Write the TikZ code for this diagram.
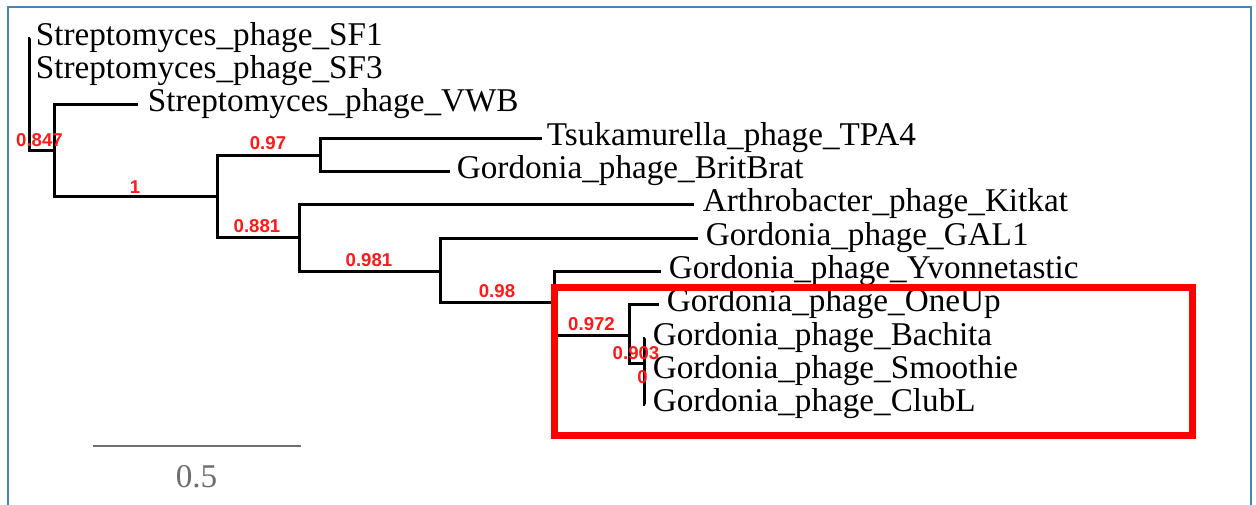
\documentclass[tikz,border=0pt]{standalone}
\usepackage{fontspec}
\setmainfont{Liberation Serif}
\newfontfamily\leaffont{Liberation Serif}
\newfontfamily\lblfont{Liberation Sans}
\definecolor{frameblue}{RGB}{70,132,190}
\definecolor{scalegray}{RGB}{110,110,110}
\definecolor{suppred}{RGB}{255,25,25}
\begin{document}
\begin{tikzpicture}[x=0.5pt,y=-0.5pt,
  branch/.style={line width=1.5pt,black,line join=miter},
  leaf/.style={anchor=base west,inner sep=0pt,font=\leaffont\fontsize{16.6pt}{20pt}\selectfont},
  supp/.style={anchor=center,inner sep=0pt,text=suppred,font=\lblfont\bfseries\fontsize{9.3pt}{11pt}\selectfont}]
\useasboundingbox (0,0) rectangle (1256,504);
\fill[white] (0,0) rectangle (1256,504);
% frame
\draw[frameblue,line width=1pt] (8,520) -- (8,7) -- (1251,7) -- (1251,520);

% internal nodes
\coordinate (root) at (29,94);
\coordinate (n847) at (54,150);
\coordinate (n1) at (217,196);
\coordinate (n97) at (320,155);
\coordinate (n881) at (299,237);
\coordinate (n981) at (440,271);
\coordinate (n98) at (554,302);
\coordinate (n972) at (629,335);
\coordinate (n903) at (644,363);

% leaf ends
\coordinate (eSF1) at (30,38);
\coordinate (eSF3) at (30,71);
\coordinate (eVWB) at (138,104);
\coordinate (eTPA) at (542,138);
\coordinate (eBrit) at (450,171);
\coordinate (eKit) at (694,204);
\coordinate (eGAL) at (698,238);
\coordinate (eYvo) at (661,271);
\coordinate (eOne) at (659,304);
\coordinate (eBac) at (645,338);
\coordinate (eSmo) at (645,371);
\coordinate (eClu) at (645,404);

% leaf labels
\node[leaf] (tSF1) at (35.5,45.5) {Streptomyces\_phage\_SF1};
\node[leaf] (tSF3) at (35.5,78.5) {Streptomyces\_phage\_SF3};
\node[leaf] (tVWB) at (147.5,111.5) {Streptomyces\_phage\_VWB};
\node[leaf] (tTPA) at (546.5,145.5) {Tsukamurella\_phage\_TPA4};
\node[leaf] (tBrit) at (456.5,178.5) {Gordonia\_phage\_BritBrat};
\node[leaf] (tKit) at (702.5,211.5) {Arthrobacter\_phage\_Kitkat};
\node[leaf] (tGAL) at (705.5,245.5) {Gordonia\_phage\_GAL1};
\node[leaf] (tYvo) at (668.5,278.5) {Gordonia\_phage\_Yvonnetastic};
\node[leaf] (tOne) at (666.5,311.5) {Gordonia\_phage\_OneUp};
\node[leaf] (tBac) at (652.5,345.5) {Gordonia\_phage\_Bachita};
\node[leaf] (tSmo) at (652.5,378.5) {Gordonia\_phage\_Smoothie};
\node[leaf] (tClu) at (652.5,411.5) {Gordonia\_phage\_ClubL};

% branches
\draw[branch] (root) |- (eSF1);
\draw[branch] (root) |- (eSF3);
\draw[branch] (root) |- (n847);
\draw[branch] (n847) |- (eVWB);
\draw[branch] (n847) |- (n1);
\draw[branch] (n1) |- (n97);
\draw[branch] (n1) |- (n881);
\draw[branch] (n97) |- (eTPA);
\draw[branch] (n97) |- (eBrit);
\draw[branch] (n881) |- (eKit);
\draw[branch] (n881) |- (n981);
\draw[branch] (n981) |- (eGAL);
\draw[branch] (n981) |- (n98);
\draw[branch] (n98) |- (eYvo);
\draw[branch] (n98) |- (n972);
\draw[branch] (n972) |- (eOne);
\draw[branch] (n972) |- (n903);
\draw[branch] (n903) |- (eBac);
\draw[branch] (n903) |- (eSmo);
\draw[branch] (n903) |- (eClu);

% support values
\node[supp] (s847) at (39.5,140) {0.847};
\node[supp] (s1) at (135,187) {1};
\node[supp] (s97) at (268,143) {0.97};
\node[supp] (s881) at (257,226.5) {0.881};
\node[supp] (s981) at (369,260.5) {0.981};
\node[supp] (s98) at (497,291.5) {0.98};
\node[supp] (s972) at (591.5,324) {0.972};
\node[supp] (s903) at (636,353.5) {0.903};
\node[supp] (s0) at (642.5,377.5) {0};

% highlight box
\draw[red,line width=3.5pt] (554,287) rectangle (1192,435);

% scale bar
\coordinate (sbL) at (93,446);
\coordinate (sbR) at (301,446);
\draw[scalegray,line width=1.4pt] (sbL) -- (sbR);
\node[anchor=base,inner sep=0pt,text=scalegray,font=\leaffont\fontsize{16.6pt}{20pt}\selectfont] (sbT) at (196.5,487) {0.5};
\end{tikzpicture}
\end{document}
